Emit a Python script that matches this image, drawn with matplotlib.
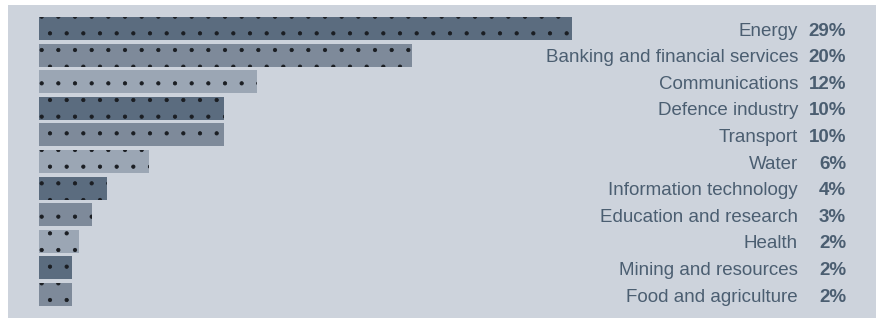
import numpy as np
import matplotlib
matplotlib.use("Agg")
import matplotlib.pyplot as plt
import matplotlib.transforms as mtransforms
from matplotlib.patches import Rectangle

# data (bar lengths in %, labels as printed)
sectors = ["Energy", "Banking and financial services", "Communications",
           "Defence industry", "Transport", "Water", "Information technology",
           "Education and research", "Health", "Mining and resources",
           "Food and agriculture"]
shares = [29.1, 20.4, 11.9, 10.1, 10.1, 6.0, 3.7, 2.9, 2.2, 1.8, 1.8]
share_labels = ["29%", "20%", "12%", "10%", "10%", "6%", "4%", "3%", "2%", "2%", "2%"]

plt.rcParams['font.family'] = ['Liberation Sans', 'DejaVu Sans']
plt.rcParams['hatch.color'] = '#1a1d22'
plt.rcParams['hatch.linewidth'] = 0.6

shades = ['#5b6c7f', '#7e8a9a', '#9ba6b4']
txt_col = '#4b5e71'
W, H = 876, 318

fig = plt.figure(figsize=(W / 100, H / 100), dpi=100)
fig.patch.set_facecolor('white')
# grey panel behind everything
fig.patches.append(Rectangle((8 / W, 0), 1 - 8 / W, 313 / H, transform=fig.transFigure,
                             facecolor='#cdd3dc', edgecolor='none', zorder=-5))

x0 = 39  # left edge of bars in pixels
ax = fig.add_axes([x0 / W, 0, 1 - x0 / W, 1])
ax.patch.set_alpha(0)
ax.set_zorder(2)
px_per_pct = 18.3
ax.set_xlim(0, (W - x0) / px_per_pct)
step = 26.6
ax.set_ylim((H - 28.5) / step, -28.5 / step)
ax.axis('off')

y = np.arange(len(sectors))
cols = [shades[i % 3] for i in range(len(sectors))]
ax.barh(y, shares, height=0.86, color=cols, hatch='.', edgecolor='#1a1d22', linewidth=0, left=0)

tr = mtransforms.blended_transform_factory(fig.transFigure, ax.transData)
for i in range(len(sectors)):
    ax.text(798 / W, y[i] + 0.1, sectors[i], transform=tr, ha='right', va='center',
            fontsize=13.5, color=txt_col)
    ax.text(846 / W, y[i] + 0.1, share_labels[i], transform=tr, ha='right', va='center',
            fontsize=13.5, color=txt_col, fontweight='bold')

fig.savefig('out.png', dpi=100)
